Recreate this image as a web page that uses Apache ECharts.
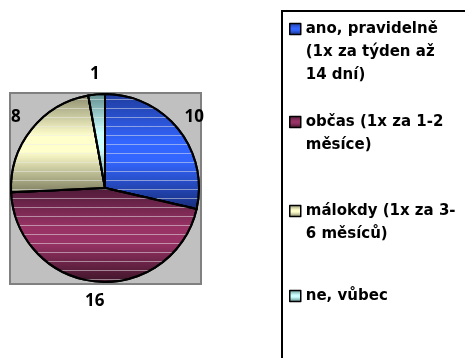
<!DOCTYPE html>
<html>
<head>
<meta charset="utf-8">
<script src="https://cdn.jsdelivr.net/npm/echarts@6/dist/echarts.min.js"></script>
<style>
  html, body { margin: 0; padding: 0; background: #fff; }
  #chart { width: 465px; height: 358px; }
</style>
</head>
<body>
<div id="chart"></div>
<script>
// Survey answers: how often respondents do it
const categories = [
  ['ano, pravidelně', '(1x za týden až', '14 dní)'],
  ['občas (1x za 1-2', 'měsíce)'],
  ['málokdy (1x za 3-', '6 měsíců)'],
  ['ne, vůbec']
];
const values = [10, 16, 8, 1];

// Three-band gradients (dark edge, light centre, dark edge) for each slice
const sliceShades = [
  ['#1f3b9c', '#3366ff', '#172c78'],
  ['#4d1a37', '#993366', '#3d1428'],
  ['#8c8c6e', '#ffffcc', '#7e7e60'],
  ['#5f8c8c', '#ccffff', '#4f7a7a']
];

const LEGEND_FONT = 'DejaVu Sans';
const LABEL_FONT = 'Open Sans';
const LINE_H = 23;

function shade(c) {
  return {
    type: 'linear', x: 0, y: 0, x2: 0, y2: 1,
    colorStops: [
      { offset: 0, color: c[0] },
      { offset: 0.42, color: c[1] },
      { offset: 0.58, color: c[1] },
      { offset: 1, color: c[2] }
    ]
  };
}

const names = categories.map(lines => lines.join(' '));
const lookup = {};
categories.forEach((lines, i) => { lookup[names[i]] = lines; });

const stripes = {
  symbol: 'rect',
  symbolSize: 1,
  dashArrayX: [10, 0],
  dashArrayY: [1, 8],
  rotation: 0,
  color: 'rgba(235,235,235,0.5)'
};

const pieData = names.map((n, i) => ({
  name: n,
  value: values[i],
  itemStyle: { color: shade(sliceShades[i]), decal: stripes }
}));

// Legend rows: blank lines are prepended so the icon sits beside the first text line
const legendIconY = [29, 122, 211, 296];
const legends = names.map((n, i) => {
  const lines = lookup[n];
  const pad = lines.length - 1;
  const total = 2 * lines.length - 1;
  return {
    data: [n],
    orient: 'vertical',
    left: 289,
    top: legendIconY[i] - total * LINE_H / 2,
    padding: 0,
    itemWidth: 11,
    itemHeight: 11,
    icon: 'rect',
    selectedMode: false,
    itemStyle: { borderColor: '#000', borderWidth: 1.5, decal: 'none' },
    textStyle: {
      fontFamily: LEGEND_FONT, fontWeight: 'bold', fontSize: 15,
      color: '#000', lineHeight: LINE_H
    },
    formatter: () => {
      const out = [];
      for (let k = 0; k < pad; k++) out.push(' ');
      lines.forEach(l => out.push(l));
      return out.join('\n');
    }
  };
});

const chart = echarts.init(document.getElementById('chart'), null, { renderer: 'canvas' });
chart.setOption({
  animation: false,
  backgroundColor: '#fff',
  graphic: [
    {
      type: 'rect', z: 0,
      shape: { x: 10, y: 93, width: 191, height: 191 },
      style: { fill: '#c0c0c0', stroke: '#808080', lineWidth: 2 }
    },
    {
      type: 'rect', z: 0,
      shape: { x: 282, y: 11, width: 260, height: 400 },
      style: { fill: '#fff', stroke: '#000', lineWidth: 2 }
    }
  ],
  legend: legends,
  series: [
    {
      type: 'pie',
      z: 3,
      center: [105, 188],
      radius: [0, 94],
      startAngle: 90,
      clockwise: true,
      silent: true,
      label: { show: false },
      labelLine: { show: false },
      itemStyle: { borderColor: '#000', borderWidth: 2 },
      data: pieData
    },
    {
      // invisible ring carrying the value labels just outside the pie
      type: 'pie',
      z: 4,
      center: [105, 188],
      radius: [96, 126],
      startAngle: 90,
      clockwise: true,
      silent: true,
      legendHoverLink: false,
      itemStyle: { color: 'rgba(0,0,0,0)', borderWidth: 0 },
      label: {
        show: true,
        position: 'inside',
        formatter: '{c}',
        fontFamily: LABEL_FONT, fontWeight: 'bold', fontSize: 17, color: '#000'
      },
      labelLine: { show: false },
      data: names.map((n, i) => ({ name: n, value: values[i] }))
    }
  ]
});
</script>
</body>
</html>
